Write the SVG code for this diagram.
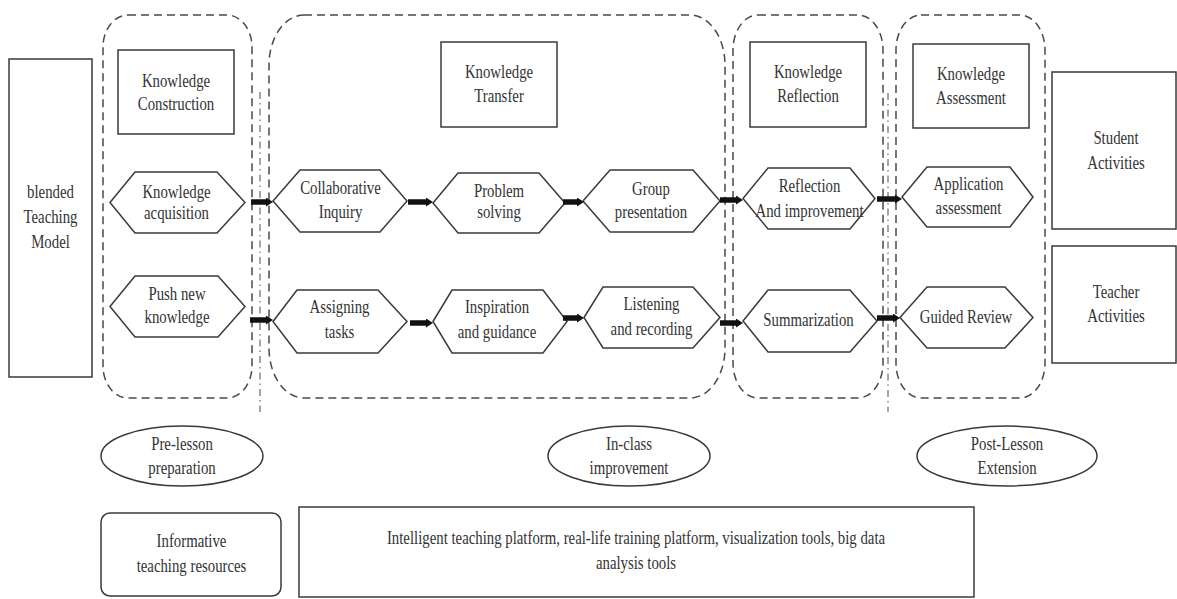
<svg xmlns="http://www.w3.org/2000/svg" width="1177" height="599" viewBox="0 0 1177 599">
<style>
.box{fill:none;stroke:#3a3a3a;stroke-width:1.5}
.cont{fill:none;stroke:#4a4a4a;stroke-width:1.5;stroke-dasharray:8 5}
.dd{fill:none;stroke:#777;stroke-width:1.3;stroke-dasharray:7 4 1.5 4}
.arr{stroke:#111;stroke-width:5.5;fill:none;marker-end:url(#ah)}
.t{font-family:"Liberation Serif","Times New Roman",serif;font-size:19.5px;fill:#333;text-anchor:middle}
</style>
<defs>
<marker id="ah" markerUnits="userSpaceOnUse" markerWidth="7" markerHeight="9" refX="0" refY="4.5" orient="auto" viewBox="0 0 7 9"><path d="M0,0 L7,4.5 L0,9z" fill="#111"/></marker>
</defs>
<rect width="1177" height="599" fill="#fff"/>

<g id="containers">
<rect class="cont" x="103" y="15" width="149" height="383" rx="25" ry="32"/>
<rect class="cont" x="269" y="15" width="456" height="383" rx="35" ry="50"/>
<rect class="cont" x="733" y="15" width="150" height="383" rx="25" ry="35"/>
<rect class="cont" x="896" y="15" width="149" height="383" rx="25" ry="35"/>
<line class="dd" x1="260" y1="92" x2="260" y2="412"/>
<line class="dd" x1="888" y1="93" x2="888" y2="412"/>
</g>

<g id="model">
<rect class="box" x="9" y="59" width="83" height="318"/>
<text class="t" transform="translate(50.5 0) scale(.76 1)"><tspan x="0" y="198">blended</tspan><tspan x="0" y="223">Teaching</tspan><tspan x="0" y="248">Model</tspan></text>
</g>

<g id="k-construction">
<rect class="box" x="118" y="50" width="116" height="84"/>
<text class="t" transform="translate(176 0) scale(.76 1)"><tspan x="0" y="87">Knowledge</tspan><tspan x="0" y="110">Construction</tspan></text>
</g>
<g id="k-transfer">
<rect class="box" x="441" y="42" width="116" height="85"/>
<text class="t" transform="translate(499 0) scale(.76 1)"><tspan x="0" y="78">Knowledge</tspan><tspan x="0" y="102">Transfer</tspan></text>
</g>
<g id="k-reflection">
<rect class="box" x="750" y="42" width="116" height="85"/>
<text class="t" transform="translate(808 0) scale(.76 1)"><tspan x="0" y="78">Knowledge</tspan><tspan x="0" y="102">Reflection</tspan></text>
</g>
<g id="k-assessment">
<rect class="box" x="913" y="44" width="116" height="84"/>
<text class="t" transform="translate(971 0) scale(.76 1)"><tspan x="0" y="80">Knowledge</tspan><tspan x="0" y="104">Assessment</tspan></text>
</g>

<g id="student">
<rect class="box" x="1052" y="72" width="124" height="157"/>
<text class="t" transform="translate(1116 0) scale(.76 1)"><tspan x="0" y="144">Student</tspan><tspan x="0" y="169">Activities</tspan></text>
</g>
<g id="teacher">
<rect class="box" x="1052" y="246" width="124" height="117"/>
<text class="t" transform="translate(1116 0) scale(.76 1)"><tspan x="0" y="298">Teacher</tspan><tspan x="0" y="322">Activities</tspan></text>
</g>

<g id="h1">
<polygon class="box" points="110,202.5 135,172 217,172 245,202.5 217,233 135,233"/>
<text class="t" transform="translate(176.5 0) scale(.76 1)"><tspan x="0" y="198">Knowledge</tspan><tspan x="0" y="219">acquisition</tspan></text>
</g>
<g id="h2">
<polygon class="box" points="273,201 300,170 380,170 407,201 380,232 300,232"/>
<text class="t" transform="translate(340.5 0) scale(.76 1)"><tspan x="0" y="194">Collaborative</tspan><tspan x="0" y="218">Inquiry</tspan></text>
</g>
<g id="h3">
<polygon class="box" points="433,203 458,173 539,173 565,203 539,233 458,233"/>
<text class="t" transform="translate(499 0) scale(.76 1)"><tspan x="0" y="197">Problem</tspan><tspan x="0" y="218">solving</tspan></text>
</g>
<g id="h4">
<polygon class="box" points="583,201 610,170 693,170 720,201 693,232 610,232"/>
<text class="t" transform="translate(651 0) scale(.76 1)"><tspan x="0" y="195">Group</tspan><tspan x="0" y="218">presentation</tspan></text>
</g>
<g id="h5">
<polygon class="box" points="743,198.5 768,168 850,168 875,198.5 850,229 768,229"/>
<text class="t" transform="translate(809.5 0) scale(.76 1)"><tspan x="0" y="192">Reflection</tspan><tspan x="0" y="217">And improvement</tspan></text>
</g>
<g id="h6">
<polygon class="box" points="902,197 927,167 1010,167 1033,197 1010,227 927,227"/>
<text class="t" transform="translate(968.5 0) scale(.76 1)"><tspan x="0" y="190">Application</tspan><tspan x="0" y="214">assessment</tspan></text>
</g>
<g id="h7">
<polygon class="box" points="110,306.5 135,276 218,276 245,306.5 218,337 135,337"/>
<text class="t" transform="translate(177 0) scale(.76 1)"><tspan x="0" y="300">Push new</tspan><tspan x="0" y="323">knowledge</tspan></text>
</g>
<g id="h8">
<polygon class="box" points="273,321.5 297,290 378,290 407,321.5 378,353 297,353"/>
<text class="t" transform="translate(339.5 0) scale(.76 1)"><tspan x="0" y="313">Assigning</tspan><tspan x="0" y="338">tasks</tspan></text>
</g>
<g id="h9">
<polygon class="box" points="433,321.5 452,290 543,290 567,321.5 543,353 452,353"/>
<text class="t" transform="translate(497 0) scale(.76 1)"><tspan x="0" y="313">Inspiration</tspan><tspan x="0" y="338">and guidance</tspan></text>
</g>
<g id="h10">
<polygon class="box" points="584,317.5 603,287 693,287 720,317.5 693,348 603,348"/>
<text class="t" transform="translate(651.5 0) scale(.76 1)"><tspan x="0" y="310">Listening</tspan><tspan x="0" y="335">and recording</tspan></text>
</g>
<g id="h11">
<polygon class="box" points="743,321 768,290 850,290 877,321 850,352 768,352"/>
<text class="t" transform="translate(808.5 0) scale(.76 1)"><tspan x="0" y="326">Summarization</tspan></text>
</g>
<g id="h12">
<polygon class="box" points="900,317.5 927,287 1005,287 1033,317.5 1005,348 927,348"/>
<text class="t" transform="translate(966 0) scale(.76 1)"><tspan x="0" y="323">Guided Review</tspan></text>
</g>

<g id="connectors">
<line class="arr" x1="251" y1="202" x2="266" y2="202"/>
<line class="arr" x1="408" y1="202" x2="426" y2="202"/>
<line class="arr" x1="563" y1="202" x2="577" y2="202"/>
<line class="arr" x1="720" y1="200" x2="736" y2="200"/>
<line class="arr" x1="877" y1="199" x2="895" y2="199"/>
<line class="arr" x1="250" y1="320" x2="266" y2="320"/>
<line class="arr" x1="410" y1="323" x2="426" y2="323"/>
<line class="arr" x1="563" y1="318" x2="577" y2="318"/>
<line class="arr" x1="720" y1="323" x2="736" y2="323"/>
<line class="arr" x1="877" y1="318" x2="893" y2="318"/>
</g>

<g id="pre-lesson">
<ellipse class="box" cx="182" cy="456" rx="81" ry="30"/>
<text class="t" transform="translate(182 0) scale(.76 1)"><tspan x="0" y="450">Pre-lesson</tspan><tspan x="0" y="474">preparation</tspan></text>
</g>
<g id="in-class">
<ellipse class="box" cx="629" cy="456" rx="81" ry="30"/>
<text class="t" transform="translate(629 0) scale(.76 1)"><tspan x="0" y="450">In-class</tspan><tspan x="0" y="474">improvement</tspan></text>
</g>
<g id="post-lesson">
<ellipse class="box" cx="1007" cy="456" rx="90" ry="30"/>
<text class="t" transform="translate(1007 0) scale(.76 1)"><tspan x="0" y="450">Post-Lesson</tspan><tspan x="0" y="474">Extension</tspan></text>
</g>

<g id="resources">
<rect class="box" x="101" y="513" width="180" height="83" rx="9"/>
<text class="t" transform="translate(191.5 0) scale(.76 1)"><tspan x="0" y="547">Informative</tspan><tspan x="0" y="572">teaching resources</tspan></text>
</g>
<g id="platforms">
<rect class="box" x="299" y="507" width="675" height="90"/>
<text class="t" transform="translate(636 0) scale(.76 1)"><tspan x="0" y="544">Intelligent teaching platform, real-life training platform, visualization tools, big data</tspan><tspan x="0" y="569">analysis tools</tspan></text>
</g>
</svg>
